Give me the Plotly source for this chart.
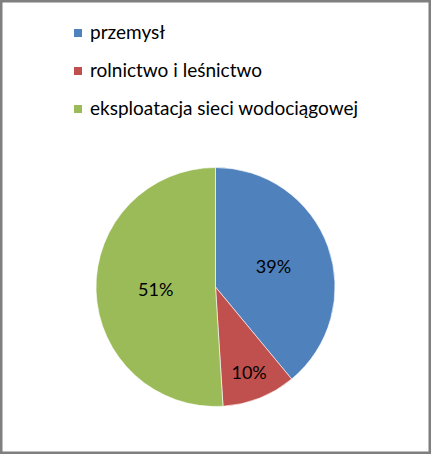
import plotly.graph_objects as go

# data
labels = ["przemysł", "rolnictwo i leśnictwo", "eksploatacja sieci wodociągowej"]
values = [39, 10, 51]
colors = ["#4F81BD", "#C0504D", "#9BBB59"]

W, H = 431, 454
FONT = "Lato"

fig = go.Figure()

fig.add_trace(
    go.Pie(
        labels=labels,
        values=values,
        sort=False,
        direction="clockwise",
        rotation=0,
        marker=dict(colors=colors, line=dict(color="white", width=0.6)),
        textinfo="percent",
        texttemplate="%{percent:.0%}",
        textposition="inside",
        insidetextorientation="horizontal",
        textfont=dict(family=FONT, size=18, color="black"),
        domain=dict(x=[96 / W, 335 / W], y=[1 - 407 / H, 1 - 167 / H]),
        showlegend=False,
        hoverinfo="label+percent",
    )
)

# legend drawn by hand so the row spacing matches the reference
shapes = []
annotations = []
for i, (lab, col) in enumerate(zip(labels, colors)):
    yc = 33 + 38 * i
    shapes.append(
        dict(
            type="rect", xref="paper", yref="paper",
            x0=74 / W, x1=82 / W, y0=1 - (yc + 4) / H, y1=1 - (yc - 4) / H,
            fillcolor=col, line=dict(width=0),
        )
    )
    annotations.append(
        dict(
            text=lab, xref="paper", yref="paper", x=88 / W, y=1 - (yc - 1) / H,
            xanchor="left", yanchor="middle", showarrow=False,
            font=dict(family=FONT, size=19, color="black"),
        )
    )

# outer frame
shapes.append(
    dict(
        type="rect", xref="paper", yref="paper", x0=0, x1=1, y0=0, y1=1,
        line=dict(color="#7F7F7F", width=5), fillcolor="rgba(0,0,0,0)",
    )
)

fig.update_layout(
    width=W,
    height=H,
    margin=dict(t=0, r=0, b=0, l=0),
    paper_bgcolor="white",
    plot_bgcolor="white",
    shapes=shapes,
    annotations=annotations,
)

# drop the default page margin so the figure sits at the window corner
fig.write_html(
    "out.html",
    config={"displayModeBar": False},
    post_script="document.body.style.margin='0';document.body.style.overflow='hidden';",
)
